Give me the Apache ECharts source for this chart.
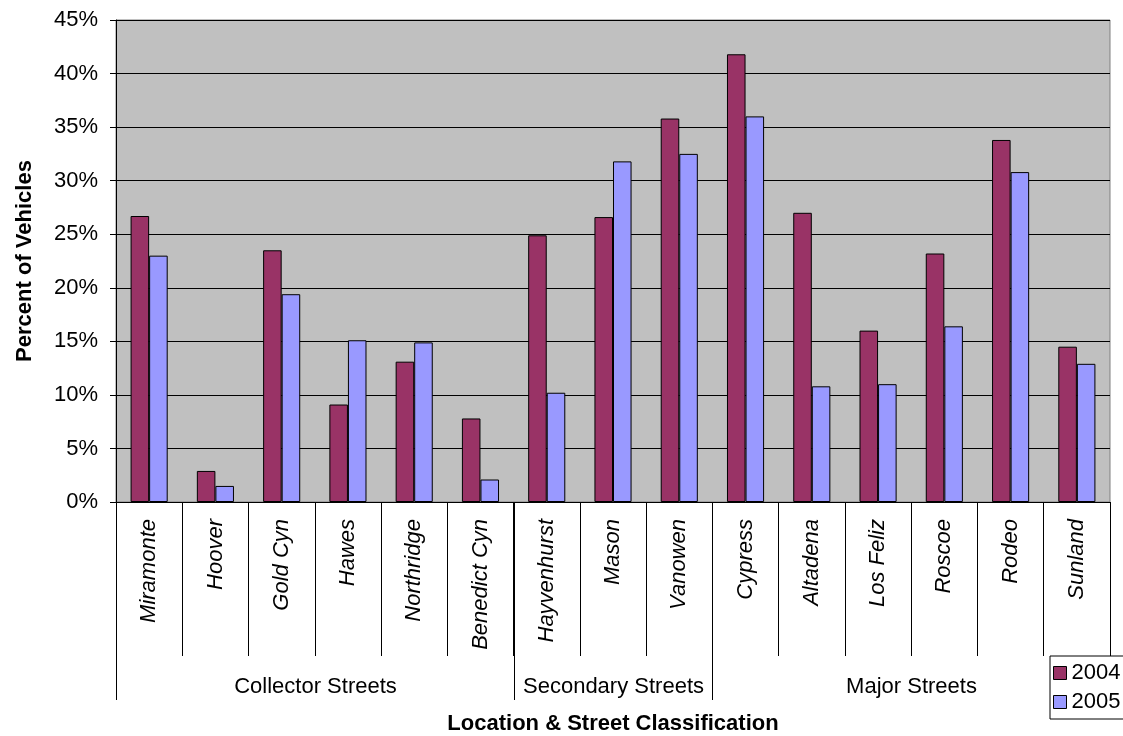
<!DOCTYPE html>
<html>
<head>
<meta charset="utf-8">
<script src="https://cdn.jsdelivr.net/npm/echarts@6/dist/echarts.min.js"></script>
<style>html,body{margin:0;padding:0;background:#fff}#c{width:1123px;height:736px}</style>
</head>
<body>
<div id="c"></div>
<script>
const categories = ['Miramonte','Hoover','Gold Cyn','Hawes','Northridge','Benedict Cyn','Hayvenhurst','Mason','Vanowen','Cypress','Altadena','Los Feliz','Roscoe','Rodeo','Sunland'];
const values2004 = [26.7, 2.9, 23.5, 9.1, 13.1, 7.8, 24.9, 26.6, 35.8, 41.8, 27.0, 16.0, 23.2, 33.8, 14.5];
const values2005 = [23.0, 1.5, 19.4, 15.1, 14.9, 2.1, 10.2, 31.8, 32.5, 36.0, 10.8, 11.0, 16.4, 30.8, 12.9];
const groupNames = ['Collector Streets', 'Secondary Streets', 'Major Streets'];
const groupStart = [0, 6, 9];
const groupEnd = [5, 8, 14];
const seriesNames = ['2004', '2005'];

const FONT = 'Arial, "Liberation Sans", sans-serif';
const chart = echarts.init(document.getElementById('c'), null, {renderer: 'canvas'});

chart.setOption({
  animation: false,
  backgroundColor: '#ffffff',
  grid: {
    left: 116, right: 13, top: 20, bottom: 234,
    outerBoundsMode: 'none',
    containLabel: false,
    show: true, backgroundColor: '#C0C0C0', borderColor: '#808080', borderWidth: 1
  },
  legend: {
    data: seriesNames,
    orient: 'vertical',
    left: 1050, top: 656,
    icon: 'rect',
    itemWidth: 13, itemHeight: 13, itemGap: 7,
    padding: [6, 6, 6, 3],
    backgroundColor: '#ffffff',
    borderColor: '#000000', borderWidth: 1,
    textStyle: {fontFamily: FONT, fontSize: 22, color: '#000'},
    itemStyle: {borderColor: '#000', borderWidth: 1}
  },
  xAxis: {
    type: 'category',
    data: categories,
    boundaryGap: true,
    axisLine: {lineStyle: {color: '#000', width: 1}},
    axisTick: {show: true, interval: 0, length: 154, lineStyle: {color: '#000', width: 1}},
    axisLabel: {interval: 0, rotate: 90, margin: 17, fontFamily: FONT, fontSize: 22, fontStyle: 'italic', color: '#000'},
    name: 'Location & Street Classification',
    nameLocation: 'middle',
    nameGap: 211,
    nameTextStyle: {fontFamily: FONT, fontSize: 22, fontWeight: 'bold', color: '#000'}
  },
  yAxis: {
    type: 'value',
    min: 0, max: 45, interval: 5,
    axisLine: {show: true, lineStyle: {color: '#000'}},
    axisTick: {show: true, length: 6, lineStyle: {color: '#000'}},
    splitLine: {show: true, lineStyle: {color: '#000', width: 1}},
    axisLabel: {formatter: '{value}%', margin: 18, fontFamily: FONT, fontSize: 22, color: '#000'},
    name: 'Percent of Vehicles',
    nameLocation: 'middle',
    nameGap: 80,
    nameTextStyle: {fontFamily: FONT, fontSize: 22, fontWeight: 'bold', color: '#000'}
  },
  series: [
    {
      name: seriesNames[0], type: 'bar', data: values2004,
      barGap: '0%', barCategoryGap: '44%',
      itemStyle: {color: '#993366', borderColor: '#000', borderWidth: 1}
    },
    {
      name: seriesNames[1], type: 'bar', data: values2005,
      barGap: '0%', barCategoryGap: '44%',
      itemStyle: {color: '#9999FF', borderColor: '#000', borderWidth: 1}
    },
    {
      type: 'custom',
      clip: false,
      silent: true,
      z: 1,
      encode: {x: [0, 1], y: 2},
      data: groupNames.map((n, i) => [groupStart[i], groupEnd[i], 0, i]),
      renderItem: function (params, api) {
        const s = api.value(0), e = api.value(1), idx = api.value(3);
        const p0 = api.coord([s, 0]);
        const p1 = api.coord([e, 0]);
        const w = api.size([1, 0])[0];
        const x0 = Math.round(p0[0] - w / 2) + 0.5;
        const x1 = Math.round(p1[0] + w / 2) + 0.5;
        const y0 = p0[1];
        return {
          type: 'group',
          children: [
            {type: 'line', shape: {x1: x0, y1: y0, x2: x0, y2: y0 + 198}, style: {stroke: '#000', lineWidth: 1}},
            {type: 'line', shape: {x1: x1, y1: y0, x2: x1, y2: y0 + 198}, style: {stroke: '#000', lineWidth: 1}},
            {type: 'text', x: (x0 + x1) / 2, y: y0 + 185,
             style: {text: groupNames[idx], fontFamily: FONT, fontSize: 22, fill: '#000', align: 'center', verticalAlign: 'middle'}}
          ]
        };
      }
    }
  ]
});
</script>
</body>
</html>
